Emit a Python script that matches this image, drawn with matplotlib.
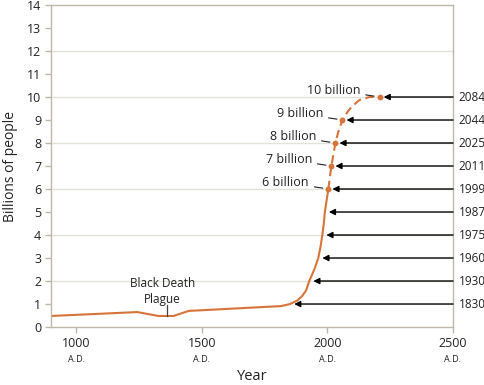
import matplotlib.pyplot as plt
import numpy as np

plt.rcParams['font.family'] = ['Open Sans', 'DejaVu Sans']

# curve
solid_year = [900, 1244, 1328, 1388, 1448, 1816, 1852, 1880, 1900, 1916, 1928,
              1948, 1964, 1973, 1980, 1986, 1990, 1997, 2004]
solid_pop = [0.48, 0.65, 0.48, 0.48, 0.70, 0.91, 1.0, 1.15, 1.35, 1.6, 2.0,
             2.5, 3.0, 3.5, 4.0, 4.5, 5.0, 5.5, 6.0]
dash_year = [2004, 2010, 2016, 2024, 2032, 2044, 2060, 2080, 2096, 2128, 2168, 2208]
dash_pop = [6.0, 6.5, 7.0, 7.5, 8.0, 8.5, 9.0, 9.35, 9.57, 9.87, 10.0, 10.0]

# where the curve reaches each billion, and the year printed for it
level = [1, 2, 3, 4, 5, 6, 7, 8, 9, 10]
cross_x = [1852, 1928, 1964, 1980, 1990, 2004, 2016, 2032, 2060, 2208]
year_label = ['1830', '1930', '1960', '1975', '1987', '1999', '2011', '2025', '2044', '2084']
billion_label = ['6 billion', '7 billion', '8 billion', '9 billion', '10 billion']

xticks = [1000, 1500, 2000, 2500]

orange = '#D8743A'
frame = '#BDB8A8'
ink = '#222222'

fig = plt.figure(figsize=(4.85, 3.85), dpi=100)
ax = fig.add_axes([0.105, 0.1506, 0.829, 0.8364])

ax.plot(solid_year, solid_pop, color=orange, lw=1.5, solid_capstyle='round')
ax.plot(dash_year, dash_pop, color=orange, lw=1.5, dashes=(4, 2.2))
ax.plot(cross_x[5:], level[5:], 'o', color=orange, ms=3.2)

ax.set_xlim(900, 2500)
ax.set_ylim(0, 14)
ax.set_yticks(range(0, 15))
ax.set_xticks(xticks)
ax.set_xticklabels([str(t) for t in xticks])
for y in range(2, 14, 2):
    ax.axhline(y, color='#E4E2DA', lw=1, zorder=0)
for s in ax.spines.values():
    s.set_color(frame)
    s.set_linewidth(1)
ax.tick_params(colors=frame, labelcolor=ink, labelsize=9, length=4, width=1, pad=3)

for t in xticks:
    ax.text(t, -0.1, 'A.D.', transform=ax.get_xaxis_transform(), ha='center',
            va='center', fontsize=6.5, color=ink)

ax.text(0.5, -0.155, 'Year', transform=ax.transAxes, ha='center', va='center',
        fontsize=10.5, color=ink)
ax.set_ylabel('Billions of people', fontsize=10, color=ink, labelpad=6)

# arrows from the right edge
for lv, cx, lab in zip(level, cross_x, year_label):
    ax.annotate('', xy=(cx + 16, lv), xytext=(2500, lv),
                arrowprops=dict(arrowstyle='-|>', color='black', lw=1,
                                mutation_scale=9, shrinkA=0, shrinkB=0))
    ax.annotate(lab, xy=(2500, lv), xytext=(4, 0), textcoords='offset points',
                ha='left', va='center', fontsize=8.5, color=ink,
                annotation_clip=False)

for lv, cx, lab in zip(level[5:], cross_x[5:], billion_label):
    ax.annotate(lab, xy=(cx, lv), xytext=(-14, 4.5), textcoords='offset points',
                ha='right', va='center', fontsize=9, color=ink,
                arrowprops=dict(arrowstyle='-', color=ink, lw=0.8,
                                relpos=(1, 0.25), shrinkA=2, shrinkB=4))

ax.text(1345, 1.9, 'Black Death', ha='center', va='center', fontsize=8.5, color=ink)
ax.text(1345, 1.2, 'Plague', ha='center', va='center', fontsize=8.5, color=ink)
ax.plot([1360, 1360], [0.48, 0.95], color='#444444', lw=0.9)

fig.savefig('out.png', dpi=100)
